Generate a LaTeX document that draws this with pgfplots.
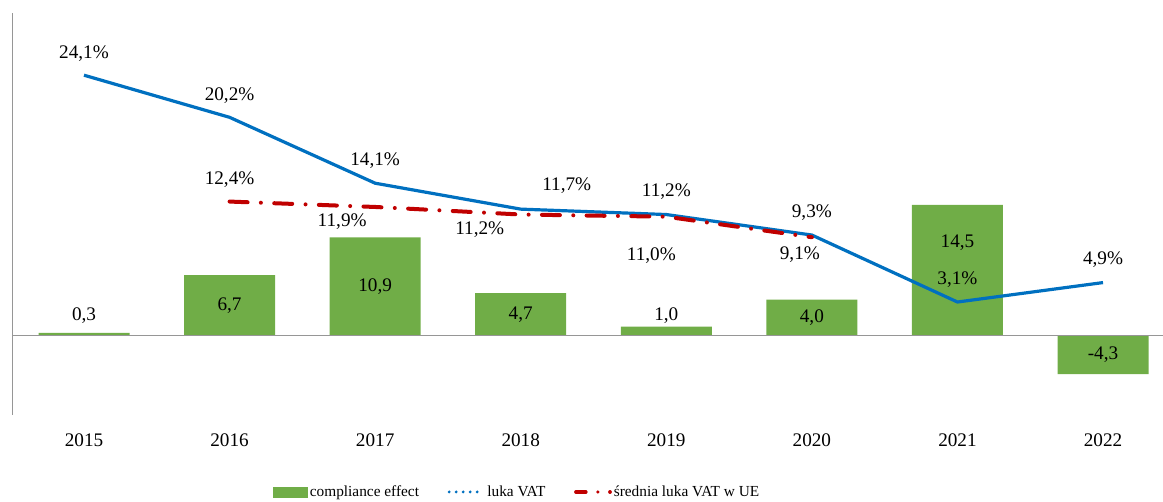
\documentclass[border=0pt]{standalone}
\usepackage{fontspec}
\setmainfont{Liberation Serif}
\usepackage{pgfplots}
\pgfplotsset{compat=1.18}
\definecolor{bargreen}{RGB}{112,173,71}
\definecolor{lineblue}{RGB}{0,112,192}
\definecolor{linered}{RGB}{192,0,0}
\definecolor{axgray}{RGB}{150,150,150}
\tikzset{lbl/.style={font=\fontsize{14.4}{17}\selectfont, inner sep=0pt, text=black}}
\pgfplotsset{common/.style={
  at={(9pt,65.25pt)}, anchor=south west, scale only axis,
  width=863.25pt, height=301.5pt,
  xmin=-0.4946, xmax=7.412, clip=false}}
\begin{document}
\begin{tikzpicture}
\path[use as bounding box] (0pt,0pt) rectangle (872.25pt,376.5pt);
% --- bars (left scale) ---
\begin{axis}[common, ymin=-8.83, ymax=35.83,
  axis line style={draw=none}, ytick=\empty,
  xtick={0,1,2,3,4,5,6,7},
  xticklabels={2015,2016,2017,2018,2019,2020,2021,2022},
  major tick length=0pt,
  /pgf/number format/assume math mode=true,
  xticklabel style={font=\fontsize{14.4}{17}\selectfont, anchor=base, yshift=-23.75pt},
  ybar, bar width=68.25pt]
\addplot[fill=bargreen, draw=none] coordinates {
  (0,0.3) (1,6.7) (2,10.9) (3,4.7) (4,1.0) (5,4.0) (6,14.5) (7,-4.3)};
\draw[axgray, line width=0.75pt] (axis cs:-0.4946,-8.83) -- (axis cs:-0.4946,35.83);
\draw[axgray, line width=0.75pt] (axis cs:-0.4946,0) -- (axis cs:7.412,0);
\node[lbl] at (axis cs:0,2.17) {0,3};
\node[lbl] at (axis cs:1,3.35) {6,7};
\node[lbl] at (axis cs:2,5.45) {10,9};
\node[lbl] at (axis cs:3,2.35) {4,7};
\node[lbl] at (axis cs:4,2.17) {1,0};
\node[lbl] at (axis cs:5,2.0) {4,0};
\node[lbl] at (axis cs:6,10.28) {14,5};
\node[lbl] at (axis cs:7,-2.15) {-4,3};
\end{axis}
% --- lines (right scale) ---
\begin{axis}[common, ymin=-7.36, ymax=29.86, hide axis,
  legend columns=3,
  legend style={draw=none, fill=none, at={(0.4387,-0.1915)}, anchor=center,
    font=\fontsize{11.5}{13.8}\selectfont,
    nodes={inner sep=1.5pt},
    /tikz/every even column/.append style={column sep=20pt}}]
\addplot[lineblue, line width=2.4pt, forget plot] coordinates {
  (0,24.1) (1,20.2) (2,14.1) (3,11.7) (4,11.2) (5,9.3) (6,3.1) (7,4.9)};
\addplot[linered, line width=3pt, line cap=round,
  dash pattern=on 13.5pt off 10pt on 0pt off 10pt, forget plot] coordinates {
  (1,12.4) (2,11.9) (3,11.2) (4,11.0) (5,9.1)};
\addlegendimage{legend image code/.code={\fill[bargreen] (0pt,-3.75pt) rectangle (26pt,3.75pt);}}
\addlegendentry{compliance effect}
\addlegendimage{legend image code/.code={\draw[lineblue, line width=2.3pt, line cap=round, dash pattern=on 0pt off 5.25pt] (1pt,0pt) -- (27pt,0pt);}}
\addlegendentry{luka VAT}
\addlegendimage{legend image code/.code={\draw[linered, line width=2.6pt, line cap=round, dash pattern=on 7.5pt off 9pt on 0pt off 9pt] (1.3pt,0pt) -- (27pt,0pt);}}
\addlegendentry{średnia luka VAT w UE}
% blue labels
\node[lbl, yshift=16.5pt] at (axis cs:0,24.1) {24,1\%};
\node[lbl, yshift=16.5pt] at (axis cs:1,20.2) {20,2\%};
\node[lbl, yshift=17pt] at (axis cs:2,14.1) {14,1\%};
\node[lbl, xshift=34.5pt, yshift=17.5pt] at (axis cs:3,11.7) {11,7\%};
\node[lbl, yshift=17pt] at (axis cs:4,11.2) {11,2\%};
\node[lbl, yshift=16.5pt] at (axis cs:5,9.3) {9,3\%};
\node[lbl, yshift=16.5pt] at (axis cs:6,3.1) {3,1\%};
\node[lbl, yshift=17.5pt] at (axis cs:7,4.9) {4,9\%};
% red labels
\node[lbl, yshift=16.2pt] at (axis cs:1,12.4) {12,4\%};
\node[lbl, xshift=-24.75pt, yshift=-11.25pt] at (axis cs:2,11.9) {11,9\%};
\node[lbl, xshift=-30.75pt, yshift=-11.6pt] at (axis cs:3,11.2) {11,2\%};
\node[lbl, xshift=-11.25pt, yshift=-29.5pt] at (axis cs:4,11.0) {11,0\%};
\node[lbl, xshift=-9pt, yshift=-13.4pt] at (axis cs:5,9.1) {9,1\%};
\end{axis}
\end{tikzpicture}
\end{document}
